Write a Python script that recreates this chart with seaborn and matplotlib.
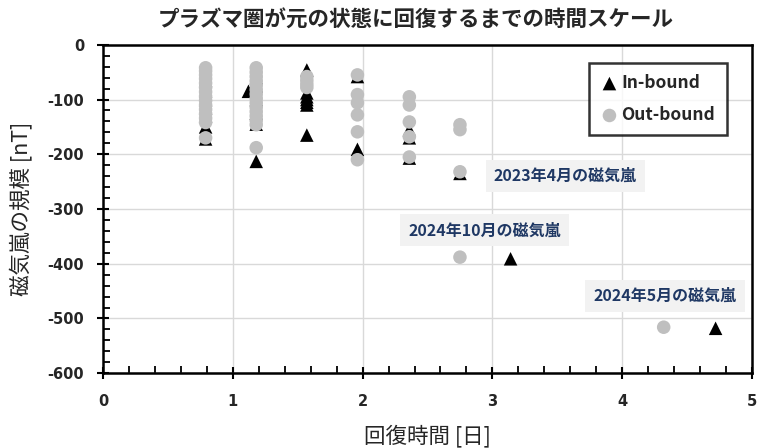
import matplotlib
matplotlib.use("Agg")
import matplotlib.pyplot as plt
import seaborn as sns
import pandas as pd
from matplotlib.ticker import MultipleLocator

# ---- data ----
inbound_x = [0.79]*7 + [1.12] + [1.18]*6 + [1.57]*7 + [1.96]*2 + [2.36]*3 + [2.75, 3.14, 4.72]
inbound_y = [-65, -85, -100, -115, -130, -150, -172,
             -85,
             -60, -75, -100, -125, -145, -213,
             -46, -88, -95, -100, -105, -110, -165,
             -58, -191,
             -155, -170, -207,
             -235, -391, -518]

outbound_x = [0.79]*15 + [1.18]*15 + [1.57]*4 + [1.96]*6 + [2.36]*5 + [2.75]*4 + [4.32]
outbound_y = [-42, -48, -55, -62, -70, -78, -86, -94, -102, -110, -118, -126, -134, -142, -170,
              -42, -50, -58, -66, -74, -82, -90, -98, -106, -114, -122, -130, -138, -146, -188,
              -58, -65, -72, -78,
              -55, -91, -106, -128, -159, -210,
              -95, -110, -141, -168, -205,
              -146, -155, -232, -388,
              -516]

series_names = ["In-bound", "Out-bound"]
annot_texts = ["2023年4月の磁気嵐", "2024年10月の磁気嵐", "2024年5月の磁気嵐"]
annot_x = [3.56, 2.94, 4.33]
annot_y = [-240, -339, -459]

title = "プラズマ圏が元の状態に回復するまでの時間スケール"
xlabel = "回復時間 [日]"
ylabel = "磁気嵐の規模 [nT]"

df_in = pd.DataFrame({"x": inbound_x, "y": inbound_y})
df_out = pd.DataFrame({"x": outbound_x, "y": outbound_y})

sns.set_theme(style="white")
plt.rcParams["font.family"] = ["Noto Sans CJK JP", "DejaVu Sans"]
plt.rcParams["axes.unicode_minus"] = False

fig = plt.figure(figsize=(7.58, 4.48), dpi=100)
ax = fig.add_axes([0.136, 0.167, 0.856, 0.733])

sns.scatterplot(data=df_in, x="x", y="y", ax=ax, marker="^", s=95, color="black",
                edgecolor="none", linewidth=0, label=series_names[0], zorder=3)
sns.scatterplot(data=df_out, x="x", y="y", ax=ax, marker="o", s=95, color="#bfbfbf",
                edgecolor="none", linewidth=0, label=series_names[1], zorder=4)

ax.set_xlim(0, 5)
ax.set_ylim(-600, 0)
ax.xaxis.set_major_locator(MultipleLocator(1))
ax.xaxis.set_minor_locator(MultipleLocator(0.2))
ax.yaxis.set_major_locator(MultipleLocator(100))
ax.yaxis.set_minor_locator(MultipleLocator(20))
ax.grid(True, which="major", color="#d9d9d9", linewidth=1.0, zorder=0)
ax.set_axisbelow(True)

for sp in ax.spines.values():
    sp.set_color("black")
    sp.set_linewidth(1.8)
    sp.set_visible(True)

ax.tick_params(which="major", direction="inout", length=8, width=1.5, color="black",
               left=True, bottom=True)
ax.tick_params(which="minor", direction="in", length=5, width=1.3, color="black",
               left=True, bottom=True)
ax.tick_params(axis="x", which="major", pad=11)
ax.tick_params(axis="y", which="major", pad=9.7)
for lab in ax.get_xticklabels() + ax.get_yticklabels():
    lab.set_fontweight("bold")
    lab.set_fontfamily("DejaVu Sans")
    lab.set_fontsize(10.5)

ax.set_xlabel(xlabel, fontsize=15.5)
ax.set_ylabel(ylabel, fontsize=15.5)
ax.yaxis.set_label_coords(-0.109, 0.5)
ax.xaxis.set_label_coords(0.5, -0.157)
fig.text(0.549, 0.955, title, ha="center", va="center", fontsize=15.5, fontweight="bold")

leg = ax.legend(loc="upper right", bbox_to_anchor=(0.961, 0.945), frameon=True,
                fancybox=False, edgecolor="black", fontsize=12.5, handletextpad=0.2,
                borderpad=0.65, labelspacing=0.8, handlelength=1.0, borderaxespad=0)
leg.get_frame().set_linewidth(1.8)
for t in leg.get_texts():
    t.set_fontweight("bold")

for txt, xx, yy in zip(annot_texts, annot_x, annot_y):
    ax.text(xx, yy, txt, ha="center", va="center", fontsize=11.5, fontweight="bold",
            color="#1f3864", zorder=5,
            bbox=dict(boxstyle="square,pad=0.5", facecolor="#f2f2f2", edgecolor="none"))

fig.savefig("out.png", dpi=100)
